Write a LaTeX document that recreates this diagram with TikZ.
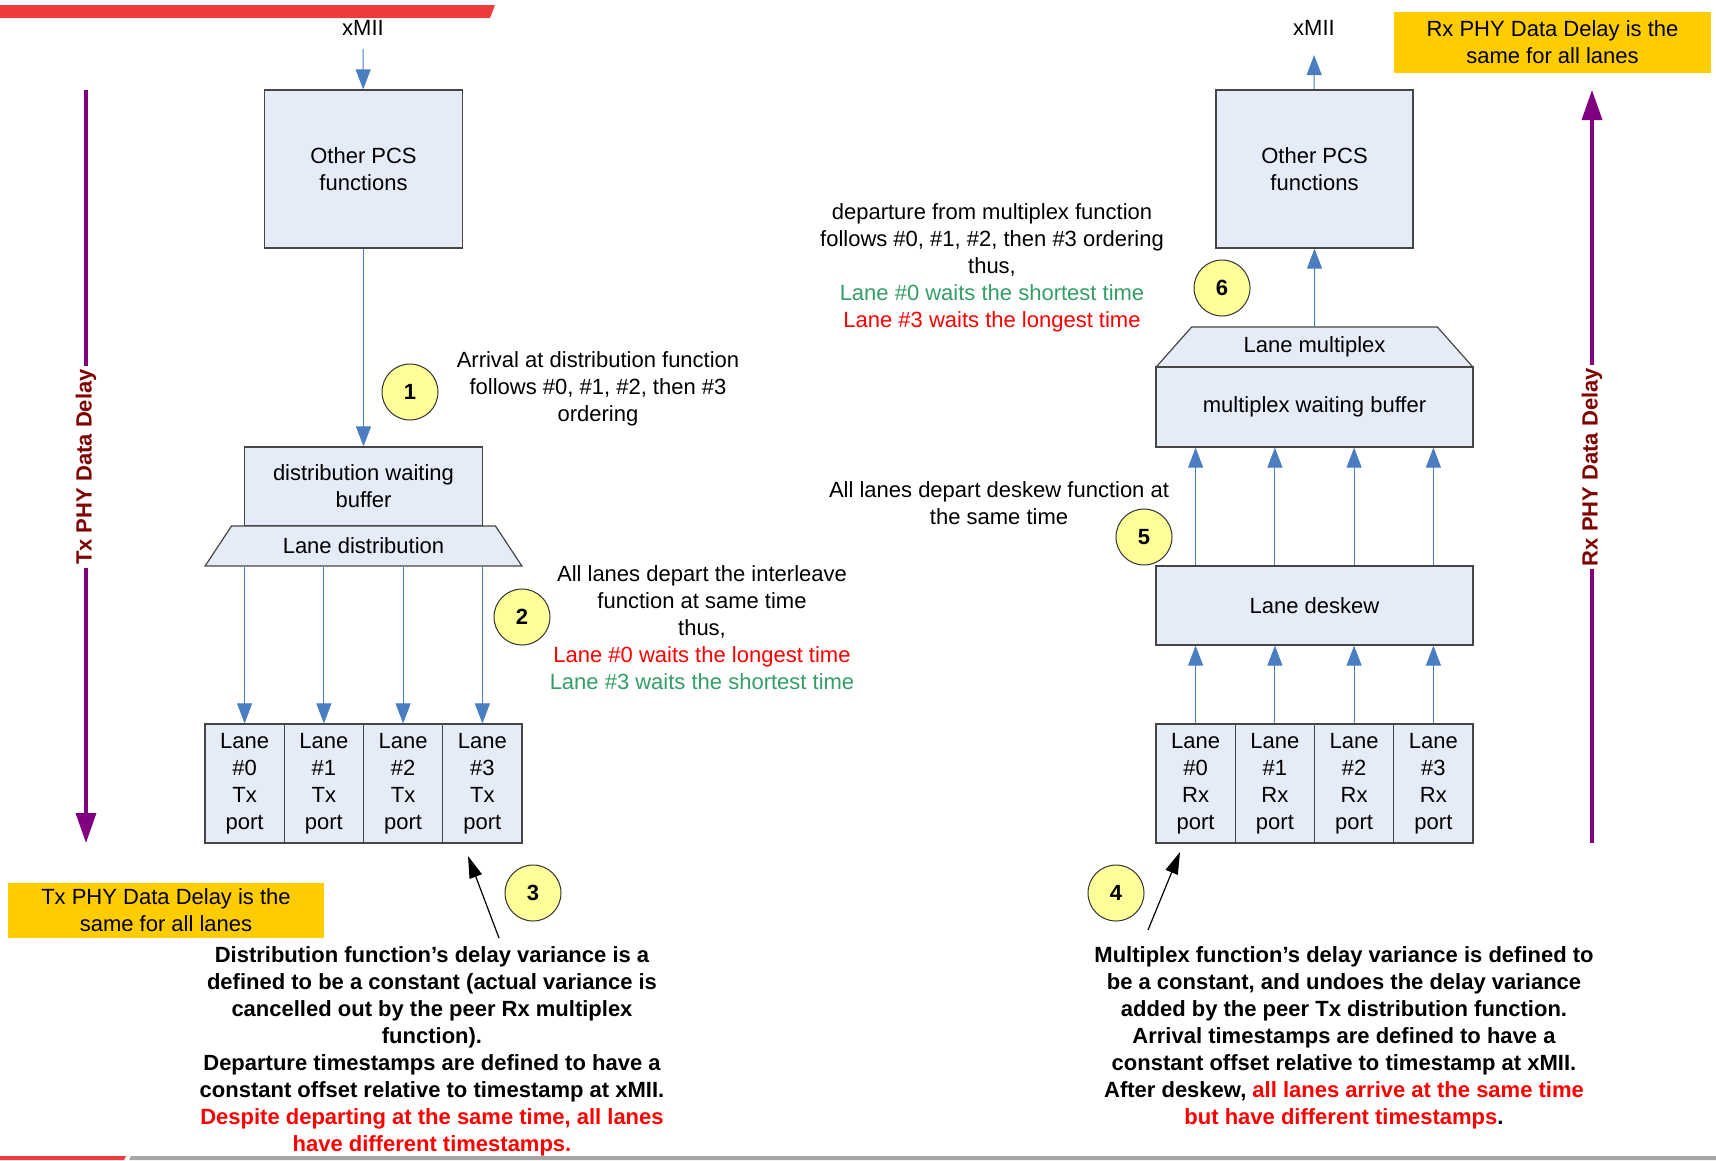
\documentclass[tikz,border=0pt]{standalone}
\usepackage{fontspec}
\setmainfont{Liberation Sans}
\usetikzlibrary{shapes.geometric,arrows.meta}
\pgfdeclarelayer{bg}
\pgfsetlayers{bg,main}
\definecolor{boxfill}{RGB}{230,236,247}
\definecolor{boxline}{RGB}{70,70,70}
\definecolor{flowblue}{RGB}{74,126,193}
\definecolor{delaypurple}{RGB}{128,0,128}
\definecolor{labelred}{RGB}{128,0,0}
\definecolor{bannergold}{RGB}{255,204,0}
\definecolor{calloutfill}{RGB}{255,255,153}
\definecolor{hotred}{RGB}{255,0,0}
\definecolor{leafgreen}{RGB}{51,158,102}
\definecolor{barred}{RGB}{238,59,59}
\definecolor{bargray}{RGB}{166,166,166}
\tikzset{
  box/.style={draw=boxline, line width=1.2pt, fill=boxfill, align=center, inner sep=0pt},
  lanebox/.style={box, minimum width=79.3pt, minimum height=119pt},
  funnel/.style={box, trapezium, trapezium angle=45, trapezium stretches=true,
    minimum width=317pt, minimum height=40pt},
  callout/.style={circle, draw=black!80, line width=1pt, fill=calloutfill,
    minimum size=56pt, inner sep=0pt, font=\fontsize{22}{27}\selectfont\bfseries},
  note/.style={align=center},
  boldnote/.style={align=center, font=\fontsize{22}{27}\selectfont\bfseries},
  banner/.style={fill=bannergold, align=center, inner sep=0pt},
  flow/.style={flowblue, line width=1pt, -{Triangle[length=20pt,width=15pt]}},
  pointer/.style={black, line width=1.2pt, -{Triangle[length=22pt,width=13pt]}},
  delay/.style={delaypurple, line width=3.5pt, -{Triangle[length=30pt,width=20pt]}},
  delaylabel/.style={fill=white, rotate=90, text=labelred, inner sep=3pt,
    font=\fontsize{22}{27}\selectfont\bfseries}
}

\begin{document}
\begin{tikzpicture}[x=1pt, y=-1pt, every node/.style={font=\fontsize{22}{27}\selectfont}]
        \useasboundingbox (0,0) rectangle (1716,1160);
        % slide bars
        \fill[barred] (0,5) -- (495,5) -- (490,18) -- (0,18) -- cycle;
        \fill[barred] (0,1156) -- (126,1156) -- (124,1160) -- (0,1160) -- cycle;
        \fill[bargray] (131,1156) -- (1716,1156) -- (1716,1160) -- (129,1160) -- cycle;

        % Tx side
        \node (txmii) at (363,28) {xMII};
        \node[box, minimum width=198pt, minimum height=158pt] (txpcs) at (363.5,169) {Other PCS\\functions};
        \node[box, minimum width=238pt, minimum height=79pt] (txbuf) at (363.5,486.5) {distribution waiting\\buffer};
        \node[funnel] (txdist) at (363.5,546) {Lane distribution};
        \node[lanebox] (txport0) at (244.6,783.5) {Lane\\\#0\\Tx\\port};
        \node[lanebox] (txport1) at (323.9,783.5) {Lane\\\#1\\Tx\\port};
        \node[lanebox] (txport2) at (403.1,783.5) {Lane\\\#2\\Tx\\port};
        \node[lanebox] (txport3) at (482.4,783.5) {Lane\\\#3\\Tx\\port};

        % Rx side
        \node (rxmii) at (1314,28) {xMII};
        \node[box, minimum width=197pt, minimum height=158pt] (rxpcs) at (1314.5,169) {Other PCS\\functions};
        \node[funnel] (rxmux) at (1314.5,347) {Lane multiplex};
        \node[box, minimum width=317pt, minimum height=80pt] (rxbuf) at (1314.5,407) {multiplex waiting buffer};
        \node[box, minimum width=317pt, minimum height=79pt] (rxdeskew) at (1314.5,605.5) {Lane deskew};
        \node[lanebox] (rxport0) at (1195.6,783.5) {Lane\\\#0\\Rx\\port};
        \node[lanebox] (rxport1) at (1274.9,783.5) {Lane\\\#1\\Rx\\port};
        \node[lanebox] (rxport2) at (1354.1,783.5) {Lane\\\#2\\Rx\\port};
        \node[lanebox] (rxport3) at (1433.4,783.5) {Lane\\\#3\\Rx\\port};

        % numbered callouts
        \node[callout] (c1) at (410,392) {1};
        \node[callout] (c2) at (522,617) {2};
        \node[callout] (c3) at (533,893) {3};
        \node[callout] (c4) at (1116,893) {4};
        \node[callout] (c5) at (1144,537) {5};
        \node[callout] (c6) at (1222,288) {6};

        % notes
        \node[note] (n1) at (598,389) {Arrival at distribution function\\follows \#0, \#1, \#2, then \#3\\ordering};
        \node[note] (n2) at (702,627.5) {All lanes depart the interleave\\function at same time\\thus,\\{\color{hotred}Lane \#0 waits the longest time}\\{\color{leafgreen}Lane \#3 waits the shortest time}};
        \node[boldnote] (n3) at (432,1051.5) {Distribution function’s delay variance is a\\defined to be a constant (actual variance is\\cancelled out by the peer Rx multiplex\\function).\\Departure timestamps are defined to have a\\constant offset relative to timestamp at xMII.\\{\color{hotred}Despite departing at the same time, all lanes}\\{\color{hotred}have different timestamps.}};
        \node[boldnote] (n4) at (1344,1037.5) {Multiplex function’s delay variance is defined to\\be a constant, and undoes the delay variance\\added by the peer Tx distribution function.\\Arrival timestamps are defined to have a\\constant offset relative to timestamp at xMII.\\After deskew, {\color{hotred}all lanes arrive at the same time}\\{\color{hotred}but have different timestamps}.};
        \node[note] (n5) at (999,503) {All lanes depart deskew function at\\the same time};
        \node[note] (n6) at (992,267.5) {departure from multiplex function\\follows \#0, \#1, \#2, then \#3 ordering\\thus,\\{\color{leafgreen}Lane \#0 waits the shortest time}\\{\color{hotred}Lane \#3 waits the longest time}};

        % delay banners and arrows
        \node[banner, minimum width=316pt, minimum height=55pt] (txbanner) at (166,910.5) {Tx PHY Data Delay is the\\same for all lanes};
        \node[banner, minimum width=317pt, minimum height=61pt] (rxbanner) at (1552.5,42.5) {Rx PHY Data Delay is the\\same for all lanes};
        \coordinate (txtop) at (86,90);
        \coordinate (txbottom) at (86,843);
        \coordinate (rxbottom) at (1592,843);
        \coordinate (rxtop) at (1592,90);
        \coordinate (txfoot) at (499,938);
        \coordinate (txhead) at (468,856);
        \coordinate (rxfoot) at (1148,930);
        \coordinate (rxhead) at (1180,852);

        \begin{pgfonlayer}{bg}
                \draw[flow, shorten <=10pt] (txmii) -- (txpcs);
                \draw[flow] (txpcs) -- (txbuf);
                \draw[flow] (txport0 |- txdist.south) -- (txport0);
                \draw[flow] (txport1 |- txdist.south) -- (txport1);
                \draw[flow] (txport2 |- txdist.south) -- (txport2);
                \draw[flow] (txport3 |- txdist.south) -- (txport3);
                \draw[flow] (rxport0) -- (rxport0 |- rxdeskew.south);
                \draw[flow] (rxport1) -- (rxport1 |- rxdeskew.south);
                \draw[flow] (rxport2) -- (rxport2 |- rxdeskew.south);
                \draw[flow] (rxport3) -- (rxport3 |- rxdeskew.south);
                \draw[flow] (rxport0 |- rxdeskew.north) -- (rxport0 |- rxbuf.south);
                \draw[flow] (rxport1 |- rxdeskew.north) -- (rxport1 |- rxbuf.south);
                \draw[flow] (rxport2 |- rxdeskew.north) -- (rxport2 |- rxbuf.south);
                \draw[flow] (rxport3 |- rxdeskew.north) -- (rxport3 |- rxbuf.south);
                \draw[flow] (rxmux) -- (rxpcs);
                \draw[flow, shorten >=16pt] (rxpcs) -- (rxmii);
                \draw[delay] (txtop) -- (txbottom);
                \draw[delay] (rxbottom) -- (rxtop);
                \draw[pointer] (txfoot) -- (txhead);
                \draw[pointer] (rxfoot) -- (rxhead);
        \end{pgfonlayer}
        \node[delaylabel] (txdelay) at (86,467) {Tx PHY Data Delay};
        \node[delaylabel] (rxdelay) at (1592,467) {Rx PHY Data Delay};
\end{tikzpicture}
\end{document}
